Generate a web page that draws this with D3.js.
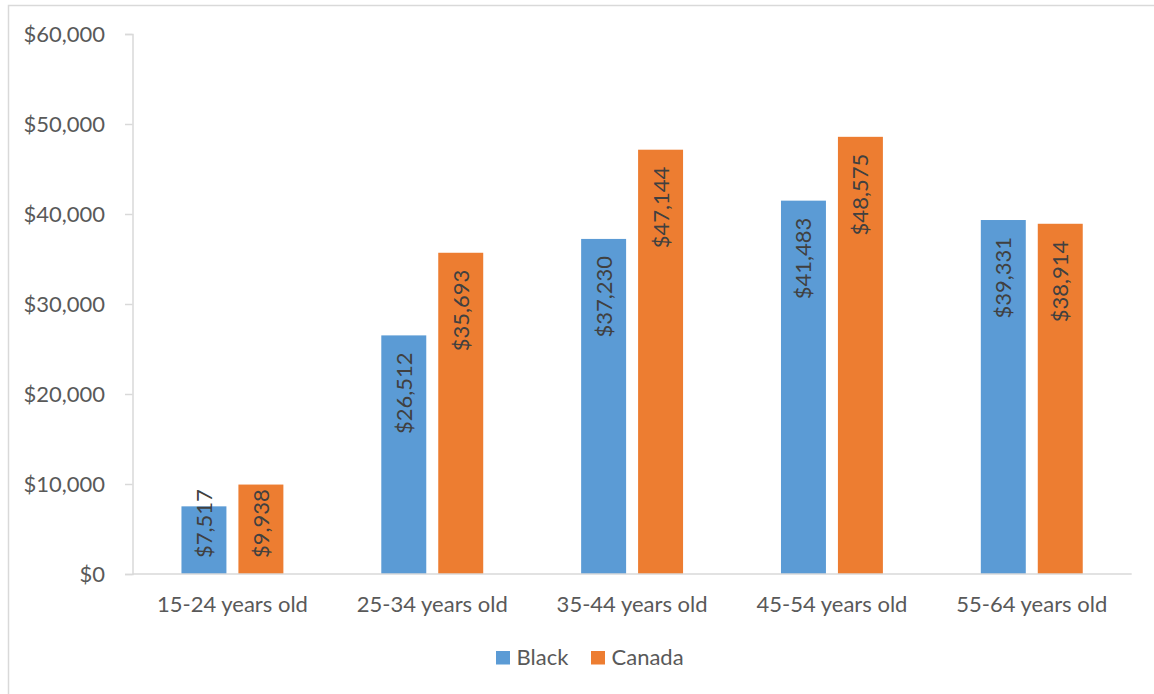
<!DOCTYPE html>
<html><head><meta charset="utf-8">
<script src="https://cdn.jsdelivr.net/npm/d3@7"></script>
<style>html,body{margin:0;padding:0;background:#fff;}svg{display:block;}</style>
</head><body>
<svg id="chart" width="1154" height="694"></svg>
<script>
const categories = ["15-24 years old","25-34 years old","35-44 years old","45-54 years old","55-64 years old"];
const seriesNames = ["Black","Canada"];
const blackValues = [7517, 26512, 37230, 41483, 39331];
const canadaValues = [9938, 35693, 47144, 48575, 38914];
const yTicks = [0, 10000, 20000, 30000, 40000, 50000, 60000];
const colors = ["#5B9BD5", "#ED7D31"];

(function(){
const font = "Lato, 'Open Sans', sans-serif";
const fs = "22px";
const svg = d3.select("#chart");
svg.append("rect").attr("x",8.5).attr("y",5.5).attr("width",1200).attr("height",800)
  .attr("fill","#fff").attr("stroke","#D9D9D9").attr("stroke-width",1.5);

const pLeft = 132.5, pRight = 1131.7, pTop = 34, pBottom = 574;
const y = d3.scaleLinear().domain([0,60000]).range([pBottom, pTop]);
const x0 = d3.scaleBand().domain(categories).range([pLeft,pRight]).paddingInner(0.49).paddingOuter(0.245);
const x1 = d3.scaleBand().domain(seriesNames).range([0, x0.bandwidth()]).paddingInner(0.2105);

const fmt = d => "$" + d3.format(",")(d);

// y axis
const yAxis = svg.append("g").attr("transform",`translate(${pLeft},0)`)
  .call(d3.axisLeft(y).tickValues(yTicks).tickFormat(fmt).tickSize(7.5).tickPadding(20));
yAxis.select(".domain").attr("stroke","#D9D9D9").attr("stroke-width",1.5);
yAxis.selectAll(".tick line").attr("stroke","#D9D9D9").attr("stroke-width",1.5);
yAxis.selectAll("text").attr("fill","#595959").style("font-family",font).style("font-size",fs);

const data = categories.map((c,i)=>({cat:c, vals:[blackValues[i], canadaValues[i]]}));

const groups = svg.append("g").selectAll("g").data(data).join("g")
  .attr("transform", d=>`translate(${x0(d.cat)},0)`);
groups.selectAll("rect").data(d=>d.vals.map((v,j)=>({v, s:seriesNames[j], j}))).join("rect")
  .attr("x", d=>x1(d.s)).attr("width", x1.bandwidth())
  .attr("y", d=>y(d.v)).attr("height", d=>y(0)-y(d.v))
  .attr("fill", d=>colors[d.j]);

// x axis
const xAxis = svg.append("g").attr("transform",`translate(0,${pBottom})`)
  .call(d3.axisBottom(x0).tickSize(0).tickPadding(0));
xAxis.select(".domain").attr("stroke","#D9D9D9").attr("stroke-width",1.5).attr("d",`M${pLeft},0H${pRight}`);
xAxis.selectAll("text").attr("fill","#595959").style("font-family",font).style("font-size",fs)
  .attr("dy",null).attr("y",38);

// data labels
groups.selectAll("text.lbl").data(d=>d.vals.map((v,j)=>({v, s:seriesNames[j], j}))).join("text")
  .attr("class","lbl")
  .style("font-family",font).style("font-size",fs).attr("fill","#404040")
  .attr("text-anchor","start")
  .text(d=>fmt(d.v))
  .each(function(d){
    const len = this.getComputedTextLength();
    const cx = x1(d.s) + x1.bandwidth()/2;
    const by = Math.min(y(d.v) + 17 + len, y(0) - 16);
    d3.select(this).attr("transform",`translate(${cx + 8},${by}) rotate(-90)`);
  });

// legend
const legend = svg.append("g");
const legX = [496, 591];
seriesNames.forEach((s,i)=>{
  legend.append("rect").attr("x",legX[i]).attr("y",651).attr("width",14).attr("height",13.5).attr("fill",colors[i]);
  legend.append("text").attr("x",legX[i]+20.5).attr("y",664.5).text(s)
    .attr("fill","#595959").style("font-family",font).style("font-size",fs);
});
})();
</script>
</body></html>
